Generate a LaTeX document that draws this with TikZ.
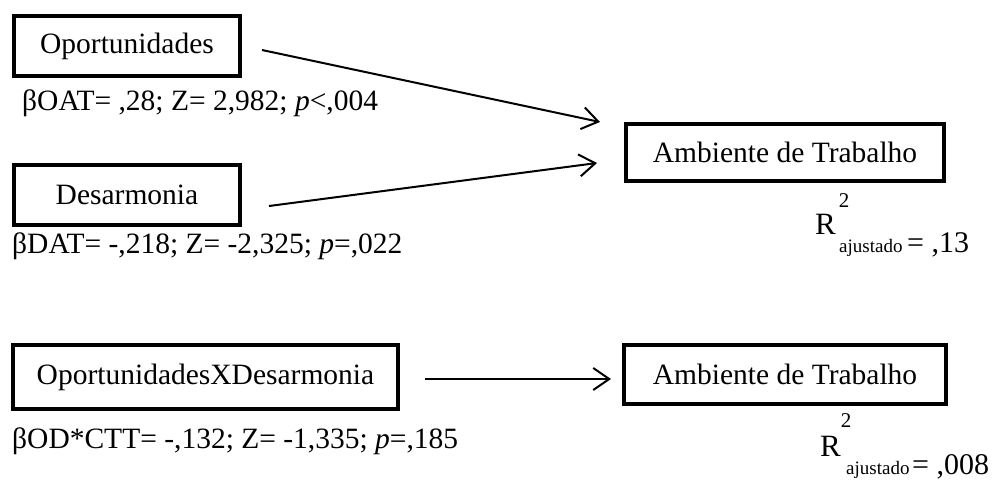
\documentclass[tikz,border=0pt]{standalone}
\usepackage{fontspec}
\setmainfont{Liberation Serif}
\usetikzlibrary{arrows.meta}
\newcommand{\fs}[1]{\fontsize{#1}{#1}\selectfont}
\begin{document}
\begin{tikzpicture}[x=1pt,y=-1pt,
  varbox/.style={draw, line width=4pt, inner sep=0pt, font=\fs{29.5}},
  lbl/.style={anchor=base west, inner sep=0pt, font=\fs{29.5}},
  conn/.style={line width=2pt, -{Straight Barb[length=16pt,width=22pt,line width=2pt]}},
  sup/.style={inner sep=0pt, font=\fs{21}},
  rr/.style={anchor=base west, inner sep=0pt, font=\fs{31}},
  sub/.style={anchor=base west, inner sep=0pt, font=\fs{19}},
  eqv/.style={anchor=base west, inner sep=0pt, font=\fs{30}}]
\useasboundingbox (0,0) rectangle (993,480);
% top panel
\node[varbox, minimum width=226pt, minimum height=60pt] (op) at (127,46) {Oportunidades};
\node[varbox, minimum width=226pt, minimum height=60pt] (de) at (127,195) {Desarmonia};
\node[varbox, minimum width=318pt, minimum height=57pt] (at1) at (785,152.5) {Ambiente de Trabalho};
\node[lbl] (b1) at (22,110) {βOAT= ,28; Z= 2,982; \textit{p}<,004};
\node[lbl] (b2) at (12,253) {βDAT= -,218; Z= -2,325; \textit{p}=,022};
\coordinate (s1) at (262,50);
\coordinate (t1) at (600,122);
\coordinate (s2) at (269,206);
\coordinate (t2) at (597,163);
\draw[conn] (s1) -- (t1);
\draw[conn] (s2) -- (t2);
\node[sup] (sq1) at (844,201) {2};
\node[rr] (r1) at (815,234) {R};
\node[sub] (aj1) at (839,252) {ajustado};
\node[eqv] (v1) at (907,252) {= ,13};
% bottom panel
\node[varbox, minimum width=385pt, minimum height=64pt] (ox) at (205.5,377) {OportunidadesXDesarmonia};
\node[varbox, minimum width=322pt, minimum height=59pt] (at2) at (785,374.5) {Ambiente de Trabalho};
\node[lbl] (b3) at (12,448) {βOD*CTT= -,132; Z= -1,335; \textit{p}=,185};
\coordinate (s3) at (425,379);
\coordinate (t3) at (611,379);
\draw[conn] (s3) -- (t3);
\node[sup] (sq2) at (846,421) {2};
\node[rr] (r2) at (820,456) {R};
\node[sub] (aj2) at (846,474) {ajustado};
\node[eqv] (v2) at (912,474) {= ,008};
\end{tikzpicture}
\end{document}
